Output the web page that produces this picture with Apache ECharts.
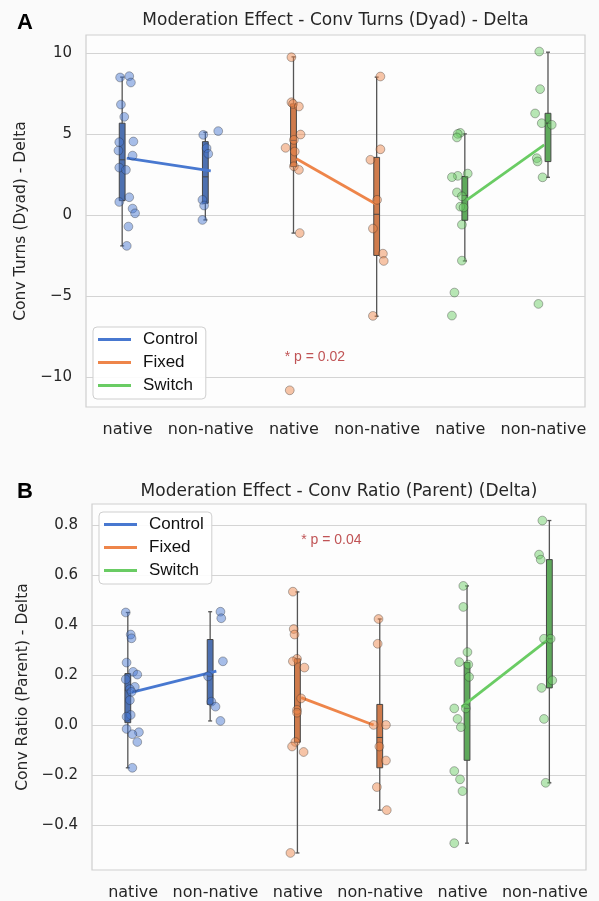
<!DOCTYPE html>
<html>
<head>
<meta charset="utf-8">
<script src="https://cdn.jsdelivr.net/npm/echarts@6/dist/echarts.min.js"></script>
<style>
  html, body { margin: 0; padding: 0; background: #fafafa; }
  #chart { width: 599px; height: 901px; }
</style>
</head>
<body>
<div id="chart"></div>
<script>
const groups = ['Control', 'Fixed', 'Switch'];
const xLabels = ['native', 'non-native', 'native', 'non-native', 'native', 'non-native'];
const turnsTicks = [-10, -5, 0, 5, 10];
const ratioTicks = [-0.4, -0.2, 0, 0.2, 0.4, 0.6, 0.8];

// Panel A - conv turns (dyad) delta. points are [x in category units, value]
const turnsControlNative = [[-0.09, 8.48], [0.02, 8.56], [0.04, 8.17], [-0.08, 6.81], [-0.04, 6.05], [-0.10, 4.49], [0.07, 4.53], [-0.11, 3.97], [0.06, 3.66], [-0.10, 2.92], [-0.02, 2.78], [0.02, 1.09], [-0.10, 0.80], [0.06, 0.39], [0.09, 0.10], [0.01, -0.72], [-0.01, -1.91]];
const turnsControlNon = [[0.91, 4.94], [1.09, 5.17], [0.95, 4.12], [0.97, 3.77], [0.90, 0.93], [0.92, 0.58], [0.90, -0.31]];
const turnsFixedNative = [[1.97, 9.73], [1.97, 6.95], [1.99, 6.85], [2.06, 6.69], [2.08, 4.96], [2.00, 4.63], [1.90, 4.14], [2.01, 3.91], [2.00, 3.00], [2.06, 2.78], [2.07, -1.12], [1.95, -10.82]];
const turnsFixedNon = [[3.04, 8.54], [3.04, 4.05], [2.92, 3.40], [3.00, 0.93], [2.95, -0.84], [3.07, -2.39], [3.08, -2.84], [2.95, -6.23]];
const turnsSwitchNative = [[4.00, 5.06], [3.97, 5.00], [3.96, 4.78], [4.09, 2.55], [3.97, 2.41], [3.90, 2.33], [3.96, 1.39], [4.02, 1.15], [4.00, 0.51], [4.04, 0.46], [4.02, -0.60], [4.02, -2.82], [3.93, -4.79], [3.90, -6.21]];
const turnsSwitchNon = [[4.95, 10.08], [4.96, 7.76], [4.90, 6.26], [4.98, 5.66], [5.10, 5.56], [4.92, 3.50], [4.93, 3.30], [4.99, 2.32], [4.94, -5.49]];
// box stats [min, q1, median, q3, max] for native / non-native
const turnsBoxControl = [[-1.91, 0.88, 3.4, 5.66, 8.5], [-0.31, 0.72, 2.35, 4.52, 5.1]];
const turnsBoxFixed = [[-1.12, 2.98, 4.6, 6.85, 9.75], [-6.25, -2.5, 0.04, 3.55, 8.5]];
const turnsBoxSwitch = [[-2.84, -0.33, 1.2, 2.37, 5.0], [2.32, 3.29, 5.66, 6.27, 10.04]];
// group means [x, mean]
const turnsMeanControl = [[-0.01, 3.50], [1.00, 2.72]];
const turnsMeanFixed = [[2.03, 3.46], [2.99, 0.66]];
const turnsMeanSwitch = [[4.08, 0.93], [5.01, 4.32]];
const turnsNote = ['* p = 0.02', 1.89, -8.77];

// Panel B - conv ratio (parent) delta
const ratioControlNative = [[-0.09, 0.450], [-0.03, 0.362], [-0.02, 0.347], [-0.08, 0.250], [0.00, 0.213], [0.05, 0.202], [-0.09, 0.183], [0.02, 0.153], [-0.04, 0.144], [-0.02, 0.133], [-0.04, 0.100], [-0.03, 0.041], [-0.08, 0.034], [-0.08, -0.015], [0.07, -0.028], [-0.01, -0.036], [0.05, -0.067], [-0.01, -0.170]];
const ratioControlNon = [[1.06, 0.453], [1.07, 0.427], [1.09, 0.255], [0.91, 0.195], [0.95, 0.094], [1.00, 0.074], [1.06, 0.017]];
const ratioFixedNative = [[1.94, 0.533], [1.95, 0.384], [1.96, 0.362], [1.99, 0.265], [1.94, 0.255], [2.08, 0.230], [2.04, 0.107], [1.99, 0.061], [1.99, 0.050], [1.97, -0.067], [1.93, -0.085], [2.07, -0.107], [1.91, -0.510]];
const ratioFixedNon = [[2.98, 0.424], [2.97, 0.325], [2.92, 0.001], [3.07, 0.001], [2.99, -0.085], [3.07, -0.141], [2.96, -0.247], [3.08, -0.339]];
const ratioSwitchNative = [[4.01, 0.556], [4.01, 0.472], [4.06, 0.292], [3.96, 0.252], [4.07, 0.242], [4.08, 0.193], [4.04, 0.067], [3.90, 0.067], [3.94, 0.025], [3.98, -0.008], [3.90, -0.183], [3.97, -0.216], [4.00, -0.263], [3.90, -0.471]];
const ratioSwitchNon = [[4.97, 0.817], [4.93, 0.681], [4.95, 0.661], [4.99, 0.345], [5.07, 0.345], [5.09, 0.179], [4.96, 0.149], [4.99, 0.025], [5.01, -0.230]];
const ratioBoxControl = [[-0.170, 0.01, 0.14, 0.206, 0.450], [0.017, 0.083, 0.195, 0.342, 0.453]];
const ratioBoxFixed = [[-0.510, -0.068, 0.061, 0.265, 0.532], [-0.339, -0.170, -0.049, 0.083, 0.424]];
const ratioBoxSwitch = [[-0.471, -0.140, 0.067, 0.250, 0.556], [-0.230, 0.149, 0.345, 0.661, 0.817]];
const ratioMeanControl = [[-0.02, 0.131], [1.01, 0.216]];
const ratioMeanFixed = [[2.04, 0.110], [2.92, 0.001]];
const ratioMeanSwitch = [[3.99, 0.073], [5.02, 0.337]];
const ratioNote = ['* p = 0.04', 2.04, 0.737];

const lineColors = ['#4878d0', '#ee854a', '#6acc64'];
const boxColors = ['#4d70b0', '#cf7b4c', '#5ea95b'];
const dotColors = ['rgba(72,120,208,0.6)', 'rgba(238,133,74,0.6)', 'rgba(106,204,100,0.6)'];
const boxDodge = [-0.065, -0.005, 0.055];
const tickFont = 'DejaVu Sans';
const textColor = '#262626';

function minus(s) {
  return String(s).replace('-', '\u2212');
}

function renderBox(params, api) {
  const x = api.value(0);
  const p = [1, 2, 3, 4, 5].map(i => api.coord([x, api.value(i)]));
  const cx = p[0][0];
  const half = 2.9;
  const whisker = { stroke: '#555555', lineWidth: 1.3 };
  return {
    type: 'group',
    children: [
      { type: 'line', shape: { x1: cx, y1: p[0][1], x2: cx, y2: p[4][1] }, style: whisker },
      { type: 'line', shape: { x1: cx - 2, y1: p[0][1], x2: cx + 2, y2: p[0][1] }, style: whisker },
      { type: 'line', shape: { x1: cx - 2, y1: p[4][1], x2: cx + 2, y2: p[4][1] }, style: whisker },
      {
        type: 'rect',
        shape: { x: cx - half, y: p[3][1], width: half * 2, height: p[1][1] - p[3][1] },
        style: { fill: api.visual('color'), stroke: '#454545', lineWidth: 1 }
      },
      { type: 'line', shape: { x1: cx - half, y1: p[2][1], x2: cx + half, y2: p[2][1] }, style: { stroke: '#454545', lineWidth: 1 } }
    ]
  };
}

function panelSeries(idx, boxes, means, points, note) {
  const out = [];
  groups.forEach((g, gi) => {
    out.push({
      type: 'custom',
      name: g + ' box',
      xAxisIndex: idx,
      yAxisIndex: idx,
      z: 2,
      itemStyle: { color: boxColors[gi] },
      renderItem: renderBox,
      data: boxes[gi].map((b, k) => [gi * 2 + k + boxDodge[gi]].concat(b))
    });
    out.push({
      type: 'line',
      name: g,
      xAxisIndex: idx,
      yAxisIndex: idx,
      z: 3,
      symbol: 'none',
      color: lineColors[gi],
      lineStyle: { width: 2.8, color: lineColors[gi] },
      data: means[gi]
    });
    out.push({
      type: 'scatter',
      name: g + ' points',
      xAxisIndex: idx,
      yAxisIndex: idx,
      z: 4,
      symbolSize: 8.8,
      itemStyle: { color: dotColors[gi], borderColor: 'rgba(40,40,40,0.55)', borderWidth: 0.8 },
      data: points[gi]
    });
  });
  out.push({
    type: 'scatter',
    name: 'note',
    xAxisIndex: idx,
    yAxisIndex: idx,
    z: 5,
    symbolSize: 0,
    silent: true,
    label: {
      show: true,
      position: 'right',
      distance: 0,
      formatter: note[0],
      fontFamily: 'Liberation Sans',
      fontSize: 14,
      color: '#b0282a'
    },
    data: [[note[1], note[2]]]
  });
  return out;
}

function xAxisFor(idx) {
  return {
    gridIndex: idx,
    type: 'value',
    min: -0.5,
    max: 5.5,
    axisLine: { show: false },
    axisTick: { show: false, customValues: [0, 1, 2, 3, 4, 5] },
    splitLine: { show: false },
    axisLabel: {
      customValues: [0, 1, 2, 3, 4, 5],
      formatter: v => xLabels[Math.round(v)],
      fontFamily: tickFont,
      fontSize: 16,
      color: textColor,
      margin: 15
    }
  };
}

function yAxisFor(idx, min, max, ticks, fmt, name, gap) {
  return {
    gridIndex: idx,
    type: 'value',
    min: min,
    max: max,
    axisLine: { show: false },
    axisTick: { show: false, customValues: ticks },
    splitLine: { show: true, lineStyle: { color: '#d4d4d4', width: 1 } },
    axisLabel: {
      customValues: ticks,
      formatter: fmt,
      fontFamily: tickFont,
      fontSize: 15,
      color: textColor,
      margin: 14
    },
    name: name,
    nameLocation: 'middle',
    nameGap: gap,
    nameTextStyle: { fontFamily: tickFont, fontSize: 15.5, color: textColor }
  };
}

function legendAt(left, top) {
  return {
    orient: 'vertical',
    left: left,
    top: top,
    data: groups,
    icon: 'rect',
    itemWidth: 33,
    itemHeight: 3,
    itemGap: 6,
    padding: [4, 8, 5, 5],
    backgroundColor: 'rgba(255,255,255,0.9)',
    borderColor: '#cfcfcf',
    borderWidth: 1,
    borderRadius: 4,
    selectedMode: false,
    textStyle: { fontFamily: 'Liberation Sans', fontSize: 17, color: '#111111', padding: [0, 0, 0, 7] }
  };
}

const chart = echarts.init(document.getElementById('chart'), null, { renderer: 'canvas' });

const option = {
  backgroundColor: '#fafafa',
  animation: false,
  title: [
    { text: 'A', left: 17, top: 12, padding: 0, textStyle: { fontFamily: 'Liberation Sans', fontSize: 22, fontWeight: 'bold', color: '#000' } },
    { text: 'Moderation Effect - Conv Turns (Dyad) - Delta', left: 335.5, textAlign: 'center', top: 12, padding: 0,
      textStyle: { fontFamily: tickFont, fontSize: 17, fontWeight: 'normal', color: textColor } },
    { text: 'B', left: 17, top: 481, padding: 0, textStyle: { fontFamily: 'Liberation Sans', fontSize: 22, fontWeight: 'bold', color: '#000' } },
    { text: 'Moderation Effect - Conv Ratio (Parent) (Delta)', left: 339, textAlign: 'center', top: 483, padding: 0,
      textStyle: { fontFamily: tickFont, fontSize: 17, fontWeight: 'normal', color: textColor } }
  ],
  legend: [legendAt(93, 327), legendAt(99, 512)],
  grid: [
    { left: 86, top: 35, width: 499, height: 372, show: true, backgroundColor: '#fdfdfd', borderColor: '#cfcfcf', borderWidth: 1.2 },
    { left: 92, top: 504, width: 494, height: 369, show: true, backgroundColor: '#fdfdfd', borderColor: '#cfcfcf', borderWidth: 1.2 }
  ],
  xAxis: [xAxisFor(0), xAxisFor(1)],
  yAxis: [
    yAxisFor(0, -11.85, 11.1, turnsTicks, v => minus(v), 'Conv Turns (Dyad) - Delta', 46),
    yAxisFor(1, -0.578, 0.883, ratioTicks, v => minus(Number(v).toFixed(1)), 'Conv Ratio (Parent) - Delta', 54)
  ],
  series: [].concat(
    panelSeries(0,
      [turnsBoxControl, turnsBoxFixed, turnsBoxSwitch],
      [turnsMeanControl, turnsMeanFixed, turnsMeanSwitch],
      [turnsControlNative.concat(turnsControlNon), turnsFixedNative.concat(turnsFixedNon), turnsSwitchNative.concat(turnsSwitchNon)],
      turnsNote),
    panelSeries(1,
      [ratioBoxControl, ratioBoxFixed, ratioBoxSwitch],
      [ratioMeanControl, ratioMeanFixed, ratioMeanSwitch],
      [ratioControlNative.concat(ratioControlNon), ratioFixedNative.concat(ratioFixedNon), ratioSwitchNative.concat(ratioSwitchNon)],
      ratioNote)
  )
};

chart.setOption(option);
</script>
</body>
</html>
